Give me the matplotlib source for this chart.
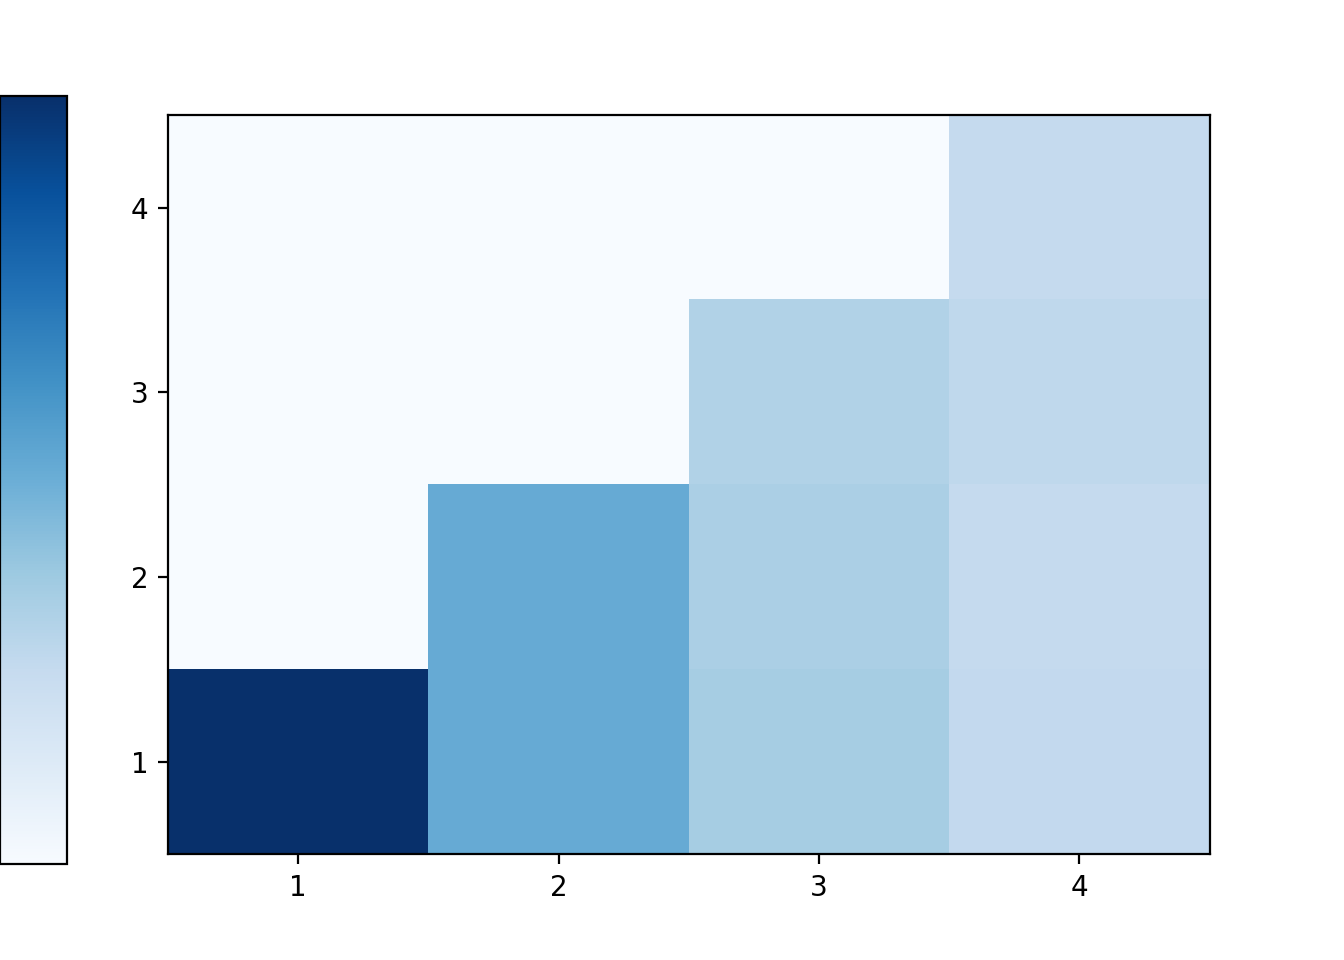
import numpy as np
import matplotlib
matplotlib.use("Agg")
import matplotlib.pyplot as plt

# rows are y = 1..4, columns are x = 1..4
row_1 = [1.0, 0.515, 0.35, 0.258]
row_2 = [0.0, 0.515, 0.334, 0.253]
row_3 = [0.0, 0.0, 0.313, 0.272]
row_4 = [0.0, 0.0, 0.0, 0.25]
ticks = [1, 2, 3, 4]

grid = np.array([row_1, row_2, row_3, row_4])

fig = plt.figure(figsize=(6.72, 4.8), dpi=200)
ax = fig.add_axes([0.125, 0.11, 0.775, 0.77])
im = ax.imshow(grid, cmap="Blues", origin="lower", aspect="auto",
               extent=(0.5, 4.5, 0.5, 4.5), vmin=0, vmax=1)
ax.set_xticks(ticks)
ax.set_yticks(ticks)

# colorbar pushed against the left edge; its ticks sit off the figure, so drop them
cax = fig.add_axes([0.0, 0.1, 0.05, 0.8])
cb = fig.colorbar(im, cax=cax, ticklocation="left")
cb.set_ticks([])

fig.savefig("out.png", dpi=200)
